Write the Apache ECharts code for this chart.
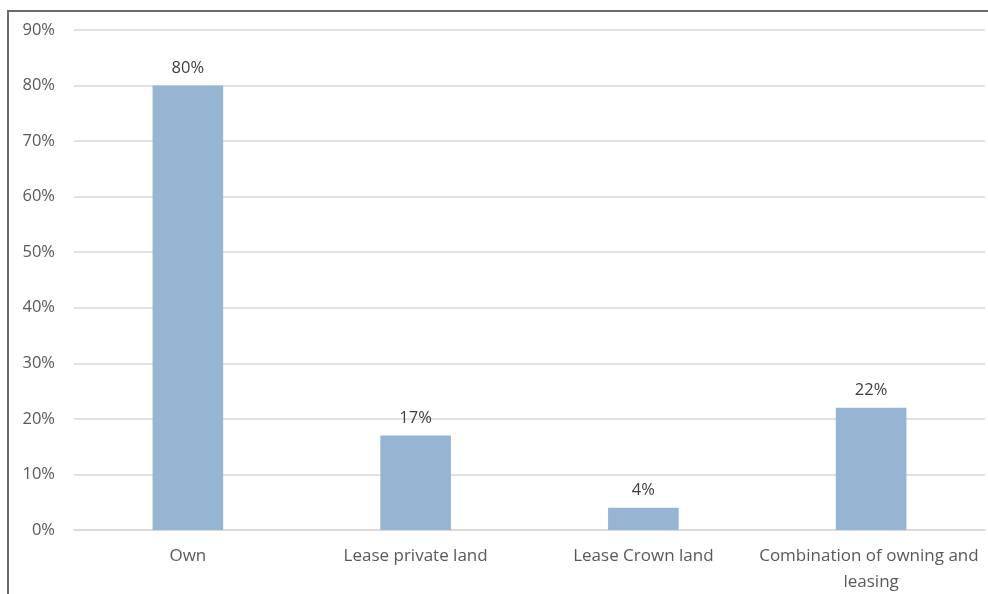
<!DOCTYPE html>
<html>
<head>
<meta charset="utf-8">
<script src="https://cdn.jsdelivr.net/npm/echarts@6/dist/echarts.min.js"></script>
<style>
  html, body { margin: 0; padding: 0; background: #ffffff; }
  #chart { width: 988px; height: 594px; }
</style>
</head>
<body>
<div id="chart"></div>
<script>
// Land tenure categories and the share of respondents in each
const categories = ['Own', 'Lease private land', 'Lease Crown land', 'Combination of owning and leasing'];
const shares = [80, 17, 4, 22];
const yTicks = [0, 10, 20, 30, 40, 50, 60, 70, 80, 90];

const textColor = '#595959';
const fontFamily = '"Open Sans", "Liberation Sans", sans-serif';

const chart = echarts.init(document.getElementById('chart'), null, { renderer: 'canvas' });

chart.setOption({
  animation: false,
  backgroundColor: '#ffffff',
  graphic: [{
    type: 'rect',
    shape: { x: 8, y: 11, width: 1100, height: 700 },
    style: { fill: 'none', stroke: '#706868', lineWidth: 2 },
    silent: true,
    z: 10
  }],
  grid: { left: 74, right: 3, top: 30, bottom: 64, containLabel: false, outerBoundsMode: 'none' },
  xAxis: {
    type: 'category',
    data: categories,
    axisLine: { show: true, lineStyle: { color: '#d9d9d9', width: 1.5 } },
    axisTick: { show: false },
    axisLabel: {
      color: textColor,
      fontFamily: fontFamily,
      fontSize: 17,
      margin: 13,
      lineHeight: 26,
      width: 232,
      overflow: 'break',
      interval: 0
    }
  },
  yAxis: {
    type: 'value',
    min: 0,
    max: yTicks[yTicks.length - 1],
    interval: 10,
    axisLine: { show: false },
    axisTick: { show: false },
    axisLabel: {
      color: textColor,
      fontFamily: fontFamily,
      fontSize: 16.5,
      margin: 19,
      formatter: v => v + '%'
    },
    splitLine: { lineStyle: { color: '#d9d9d9', width: 1.5 } }
  },
  series: [{
    type: 'bar',
    data: shares,
    barWidth: '31%',
    itemStyle: { color: '#95b5d2' },
    label: {
      show: true,
      position: 'top',
      distance: 9,
      color: '#404040',
      fontFamily: fontFamily,
      fontSize: 16.5,
      formatter: p => p.value + '%'
    }
  }]
});
</script>
</body>
</html>
